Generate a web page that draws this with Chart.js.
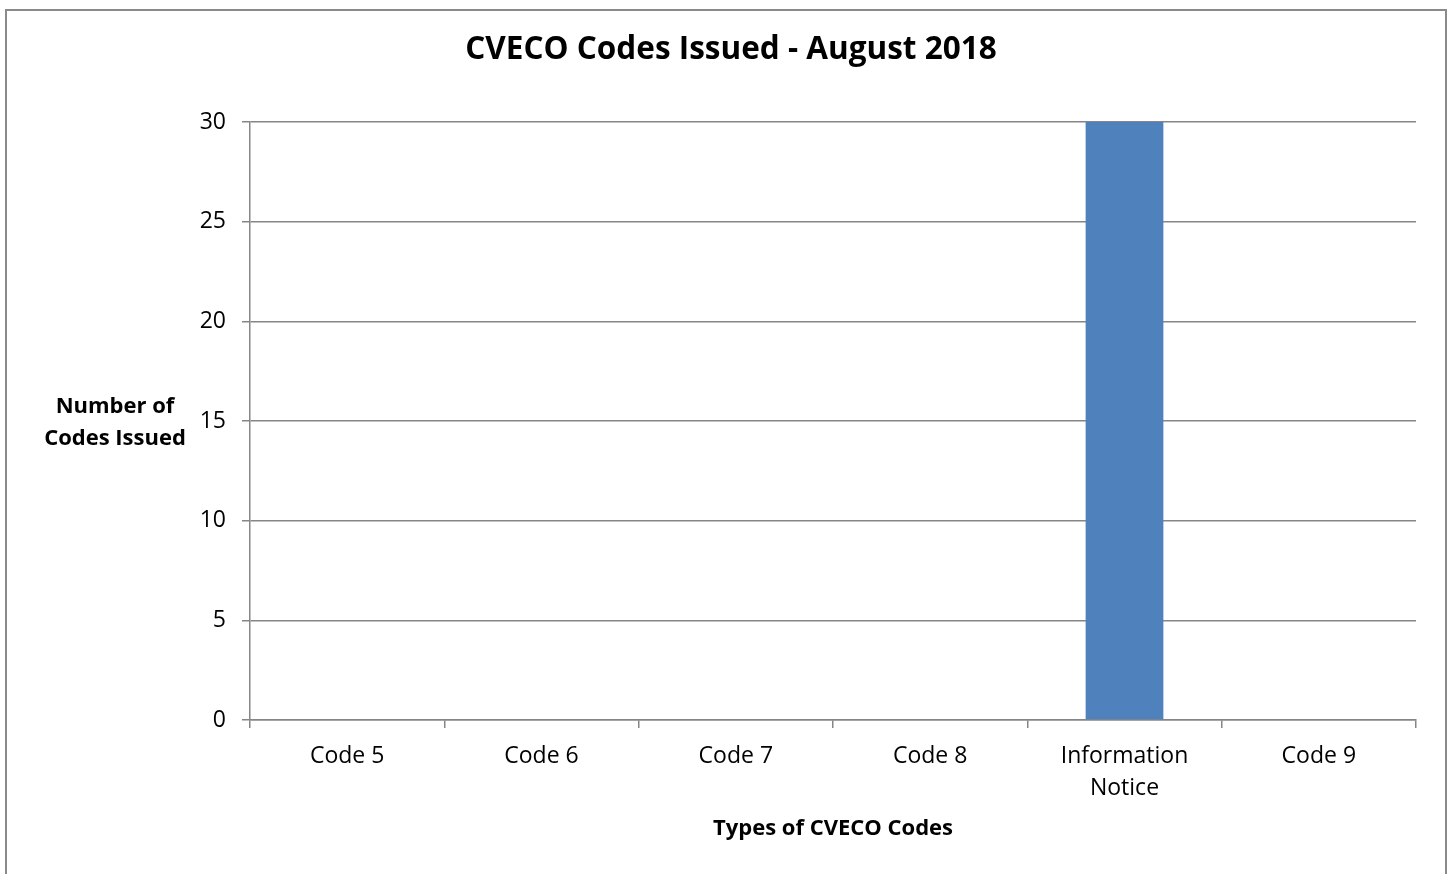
<!DOCTYPE html>
<html>
<head>
<meta charset="utf-8">
<script src="https://cdn.jsdelivr.net/npm/chart.js@4"></script>
<style>
  html, body { margin: 0; padding: 0; background: #fff; }
  #wrap { width: 1452px; height: 874px; }
</style>
</head>
<body>
<div id="wrap"><canvas id="myChart" width="1452" height="874"></canvas></div>
<script>
var titulo = "CVECO Codes Issued - August 2018";
var categorias = ["Code 5", "Code 6", "Code 7", "Code 8", ["Information", "Notice"], "Code 9"];
var codigos = [0, 0, 0, 0, 30, 0];
var ticksY = [0, 5, 10, 15, 20, 25, 30];

var fuente = "'Open Sans', sans-serif";
var gris = "#868686";

// marco, titulo y titulo del eje Y en horizontal, como en Excel
var textosExtra = {
    id: "textosExtra",
    beforeDraw: function(chart) {
        var ctx = chart.ctx;
        ctx.save();
        ctx.fillStyle = "#fff";
        ctx.fillRect(0, 0, chart.width, chart.height);
        ctx.strokeStyle = "#8a8a8a";
        ctx.lineWidth = 2;
        ctx.strokeRect(6, 10, 1440, 880);
        ctx.restore();
    },
    afterDraw: function(chart) {
        var ctx = chart.ctx;
        ctx.save();
        ctx.fillStyle = "#000";
        ctx.textAlign = "center";
        ctx.textBaseline = "middle";
        ctx.font = "bold 31.5px " + fuente;
        ctx.fillText(titulo, 731, 50);
        ctx.font = "bold 22px " + fuente;
        ctx.fillText("Number of", 115, 407);
        ctx.fillText("Codes Issued", 115, 439);
        ctx.restore();
    }
};

var ctx = document.getElementById("myChart").getContext("2d");
var myChart = new Chart(ctx, {
    type: "bar",
    data: {
        labels: categorias,
        datasets: [{
            label: "Codes",
            data: codigos,
            backgroundColor: "#4F81BD",
            barPercentage: 0.4,
            categoryPercentage: 1
        }]
    },
    options: {
        responsive: false,
        animation: false,
        layout: { padding: { left: 0, right: 36, top: 122, bottom: 0 } },
        plugins: {
            legend: { display: false },
            tooltip: { enabled: false },
            title: { display: false }
        },
        scales: {
            x: {
                afterFit: function(s) { s.height = 154; },
                grid: { offset: true, drawOnChartArea: false, color: gris, tickLength: 8, lineWidth: 1.5 },
                border: { color: gris, width: 1.5 },
                ticks: { color: "#000", font: { family: fuente, size: 23, lineHeight: 1.4 }, padding: 12, maxRotation: 0, autoSkip: false },
                title: {
                    display: true,
                    text: "Types of CVECO Codes",
                    color: "#000",
                    font: { family: fuente, size: 22, weight: "bold" },
                    padding: { top: 0, bottom: 32 }
                }
            },
            y: {
                min: 0,
                max: 30,
                afterFit: function(s) { s.width = 250; },
                afterBuildTicks: function(s) { s.ticks = ticksY.map(function(v) { return { value: v }; }); },
                grid: { color: gris, tickLength: 8, lineWidth: 1.5 },
                border: { color: gris, width: 1.5 },
                ticks: { color: "#000", font: { family: fuente, size: 23 }, padding: 16 }
            }
        }
    },
    plugins: [textosExtra]
});
</script>
</body>
</html>
